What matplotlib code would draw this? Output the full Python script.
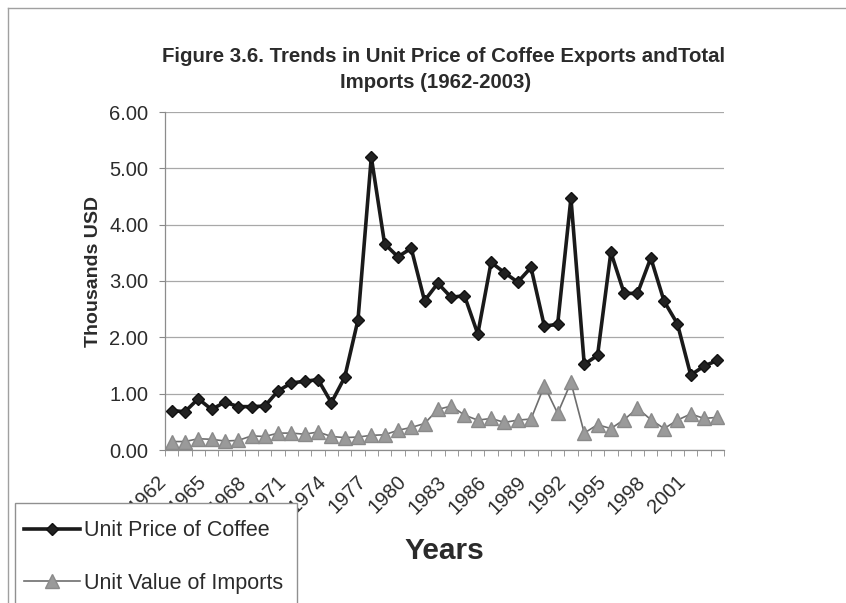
#!/usr/bin/env python3

import numpy as np
import matplotlib
matplotlib.use("Agg")
import matplotlib.pyplot as plt
import matplotlib.transforms as mtransforms
from matplotlib.lines import Line2D
from matplotlib.patches import Rectangle

years = list(range(1962, 2004))
coffee_price = [0.70, 0.68, 0.91, 0.72, 0.85, 0.77, 0.77, 0.78, 1.05, 1.19,
                1.22, 1.25, 0.84, 1.29, 2.31, 5.20, 3.66, 3.43, 3.58, 2.65,
                2.96, 2.71, 2.74, 2.06, 3.33, 3.15, 2.98, 3.24, 2.20, 2.23,
                4.47, 1.52, 1.68, 3.51, 2.78, 2.78, 3.41, 2.64, 2.24, 1.33,
                1.49, 1.59]
import_value = [0.15, 0.15, 0.20, 0.19, 0.16, 0.17, 0.25, 0.24, 0.30, 0.30,
                0.28, 0.32, 0.24, 0.22, 0.23, 0.26, 0.27, 0.35, 0.40, 0.47,
                0.72, 0.78, 0.62, 0.53, 0.56, 0.49, 0.53, 0.55, 1.14, 0.65,
                1.20, 0.30, 0.45, 0.38, 0.54, 0.74, 0.54, 0.38, 0.53, 0.64,
                0.56, 0.58]
label_years = years[::3][:14]
y_ticks = [0, 1, 2, 3, 4, 5, 6]

W, H = 846, 603


def draw():
    plt.rcParams['font.family'] = ['Liberation Sans', 'DejaVu Sans']
    txt = '#2b2b2b'
    fig = plt.figure(figsize=(W / 100, H / 100), dpi=100)
    ax = fig.add_axes([165 / W, 1 - 450 / H, (724 - 165) / W, (450 - 112) / H])

    x = np.arange(len(years))
    ax.plot(x, coffee_price, '-', color='#1a1a1a', lw=2.6, marker='D',
            markersize=6.5, markerfacecolor='#222222', markeredgecolor='#111111',
            label='Unit Price of Coffee', zorder=4)
    ax.plot(x, import_value, '-', color='#6e6e6e', lw=1.2, marker='^',
            markersize=10, markerfacecolor='#9a9a9a', markeredgecolor='#8a8a8a',
            label='Unit Value of Imports', zorder=3)

    ax.set_xlim(-0.5, len(years) - 0.5)
    ax.set_ylim(0, 6)
    ax.set_yticks(y_ticks)
    ax.set_yticklabels([f'{v:.2f}' for v in y_ticks], fontsize=14.5, color=txt)
    ax.yaxis.grid(True, color='#a8a8a8', lw=0.9)
    ax.set_axisbelow(True)

    idx = [years.index(y) for y in label_years]
    ax.set_xticks(idx)
    ax.set_xticklabels([str(y) for y in label_years], fontsize=14.5, color=txt,
                       rotation=45, ha='right', va='center',
                       rotation_mode='anchor')
    ax.set_xticks(np.arange(-0.5, len(years)), minor=True)
    ax.tick_params(axis='x', which='major', length=0, pad=10)
    ax.tick_params(axis='x', which='minor', length=4, color='#888888',
                   direction='out')
    ax.tick_params(axis='y', length=4, color='#888888', pad=8)

    # nudge year labels down and left (after tick_params, which resets transforms)
    shift = mtransforms.ScaledTranslation(-0.08, -0.15, fig.dpi_scale_trans)
    for tick in ax.xaxis.get_major_ticks():
        tick.label1.set_transform(tick.label1.get_transform() + shift)

    for s in ['top', 'right']:
        ax.spines[s].set_visible(False)
    for s in ['left', 'bottom']:
        ax.spines[s].set_color('#8c8c8c')
        ax.spines[s].set_linewidth(0.9)

    fig.text(444 / W, 1 - 56 / H,
             'Figure 3.6. Trends in Unit Price of Coffee Exports andTotal',
             ha='center', va='center', fontsize=14.7, fontweight='bold', color=txt)
    fig.text(436 / W, 1 - 83 / H, 'Imports (1962-2003)',
             ha='center', va='center', fontsize=14.7, fontweight='bold', color=txt)
    fig.text(93 / W, 1 - 272 / H, 'Thousands USD', rotation=90,
             ha='center', va='center', fontsize=14, fontweight='bold', color=txt)
    fig.text(444 / W, 1 - 551 / H, 'Years', ha='center', va='center',
             fontsize=21.5, fontweight='bold', color=txt)

    # outer chart border (top and left edges)
    fig.add_artist(Line2D([8 / W, 1], [1 - 8 / H, 1 - 8 / H],
                          transform=fig.transFigure, color='#a0a0a0', lw=1))
    fig.add_artist(Line2D([8 / W, 8 / W], [0, 1 - 8 / H],
                          transform=fig.transFigure, color='#a0a0a0', lw=1))

    # legend box sits over the tick labels and runs off the bottom edge
    fig.add_artist(Rectangle((15 / W, -0.02), (297 - 15) / W, 0.02 + (603 - 503) / H,
                             transform=fig.transFigure, facecolor='white',
                             edgecolor='#909090', lw=1, zorder=4))
    leg = fig.legend(loc='upper left', bbox_to_anchor=(18 / W, 1 - 514 / H),
                     frameon=False, fontsize=15.5, numpoints=1, handlelength=2.6,
                     handletextpad=0.15, labelspacing=1.45, borderpad=0.3,
                     borderaxespad=0)
    leg.set_zorder(5)
    for t in leg.get_texts():
        t.set_color(txt)

    fig.savefig('out.png', dpi=100)


if __name__ == "__main__":
    draw()
